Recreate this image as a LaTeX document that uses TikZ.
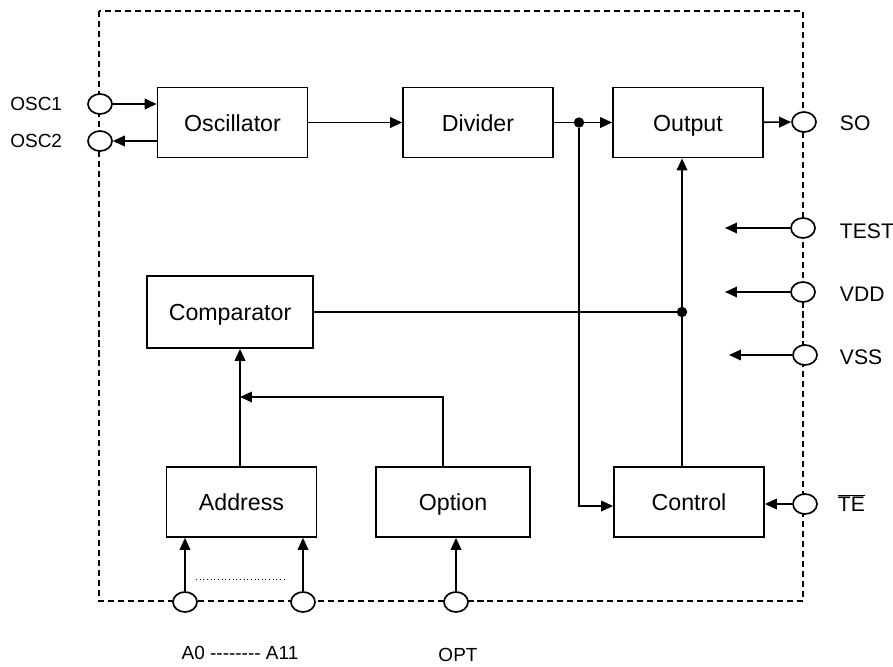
\documentclass[tikz,border=0pt]{standalone}
\usepackage{fontspec}
\setmainfont{Liberation Sans}
\usetikzlibrary{arrows.meta,shapes.geometric}

\begin{document}
\begin{tikzpicture}[
    x=0.025cm, y=-0.025cm,
    >={Triangle[length=8.5pt,width=7.5pt]},
    block/.style={rectangle, draw, line width=1.2pt, minimum width=3.75cm, minimum height=1.75cm, inner sep=0pt, text height=12.5pt, text depth=0pt, font=\fontsize{16.5}{19}\selectfont},
    port/.style={ellipse, draw, line width=1.2pt, fill=white, minimum width=0.6cm, minimum height=0.5cm, inner sep=0pt},
    wire/.style={line width=1.2pt},
    junction/.style={circle, fill, inner sep=0pt, minimum size=0.26cm},
    biglabel/.style={anchor=west, font=\fontsize{15}{18}\selectfont},
    smalllabel/.style={font=\fontsize{13.5}{16}\selectfont},
]
\useasboundingbox (0,0) rectangle (893,666);

% chip outline
\draw[line width=1.2pt, dash pattern=on 4.3pt off 2.8pt] (99,11) rectangle (803,601);

% blocks
\node[block] (osc) at (232.5,122.5) {Oscillator};
\node[block] (div) at (478,122.5) {Divider};
\node[block] (out) at (688,122.5) {Output};
\node[block, minimum width=4.15cm, minimum height=1.8cm] (comp) at (230,312) {Comparator};
\node[block] (addr) at (241.5,502) {Address};
\node[block, minimum width=3.85cm] (opt) at (453,502) {Option};
\node[block] (ctrl) at (689,502) {Control};

% pins on the outline
\node[port] (pOSCa) at (100,104) {};
\node[port] (pOSCb) at (100,141) {};
\node[port] (pSO) at (804,122) {};
\node[port] (pTEST) at (803,228) {};
\node[port] (pVDD) at (803,292) {};
\node[port] (pVSS) at (805,355) {};
\node[port] (pTE) at (805,504) {};
\node[port] (pA0) at (185,602) {};
\node[port] (pA11) at (303,602) {};
\node[port] (pOPT) at (456,602) {};

% pin names
\node[smalllabel, anchor=east] (lOSCa) at (67,104) {OSC1};
\node[smalllabel, anchor=east] (lOSCb) at (67,141) {OSC2};
\node[biglabel] (lSO) at (835,123) {SO};
\node[biglabel] (lTEST) at (835,231) {TEST};
\node[biglabel] (lVDD) at (835,294) {VDD};
\node[biglabel] (lVSS) at (835,357) {VSS};
\node[biglabel] (lTE) at (833,503) {$\overline{\mbox{TE}}$};
\node[smalllabel] (lA) at (240,653) {A0 -{}-{}-{}-{}-{}-{}-{}- A11};
\node[smalllabel] (lOPT) at (458,655) {OPT};

% junctions and bends
\node[junction] (dsplit) at (579,122.5) {};
\node[junction] (dcmp) at (682,312) {};
\coordinate (merge) at (240,397);
\coordinate (optfeed) at (443,397);
\coordinate (tTEST) at (725,228);
\coordinate (tVDD) at (725,292);
\coordinate (tVSS) at (729,355);

% oscillator pins
\draw[wire, ->] (pOSCa) -- (osc.west |- pOSCa);
\draw[wire, ->] (osc.west |- pOSCb) -- (pOSCb);

% clock chain
\draw[wire, ->] (osc) -- (div);
\draw[wire] (div) -- (dsplit);
\draw[wire, ->] (dsplit) -- (out);
\draw[wire, ->] (out) -- (pSO);
\draw[wire, ->] (dsplit) |- ([yshift=-0.1cm]ctrl.west);
\draw[wire, ->] (ctrl.north -| dcmp) -- (out.south -| dcmp);
\draw[wire] (comp) -- (dcmp);

% supply and test pins
\draw[wire, ->] (pTEST) -- (tTEST);
\draw[wire, ->] (pVDD) -- (tVDD);
\draw[wire, ->] (pVSS) -- (tVSS);
\draw[wire, ->] (pTE) -- (ctrl.east |- pTE);

% address / option into comparator
\draw[wire, ->] (addr.north -| merge) -- (comp.south -| merge);
\draw[wire, ->] (opt.north -| optfeed) |- (merge);
\draw[wire, ->] (pA0) -- (addr.south -| pA0);
\draw[wire, ->] (pA11) -- (addr.south -| pA11);
\draw[wire, ->] (pOPT) -- (opt.south -| pOPT);
\draw[dotted, line width=0.6pt] (196,579) -- (287,579);

\end{tikzpicture}
\end{document}
